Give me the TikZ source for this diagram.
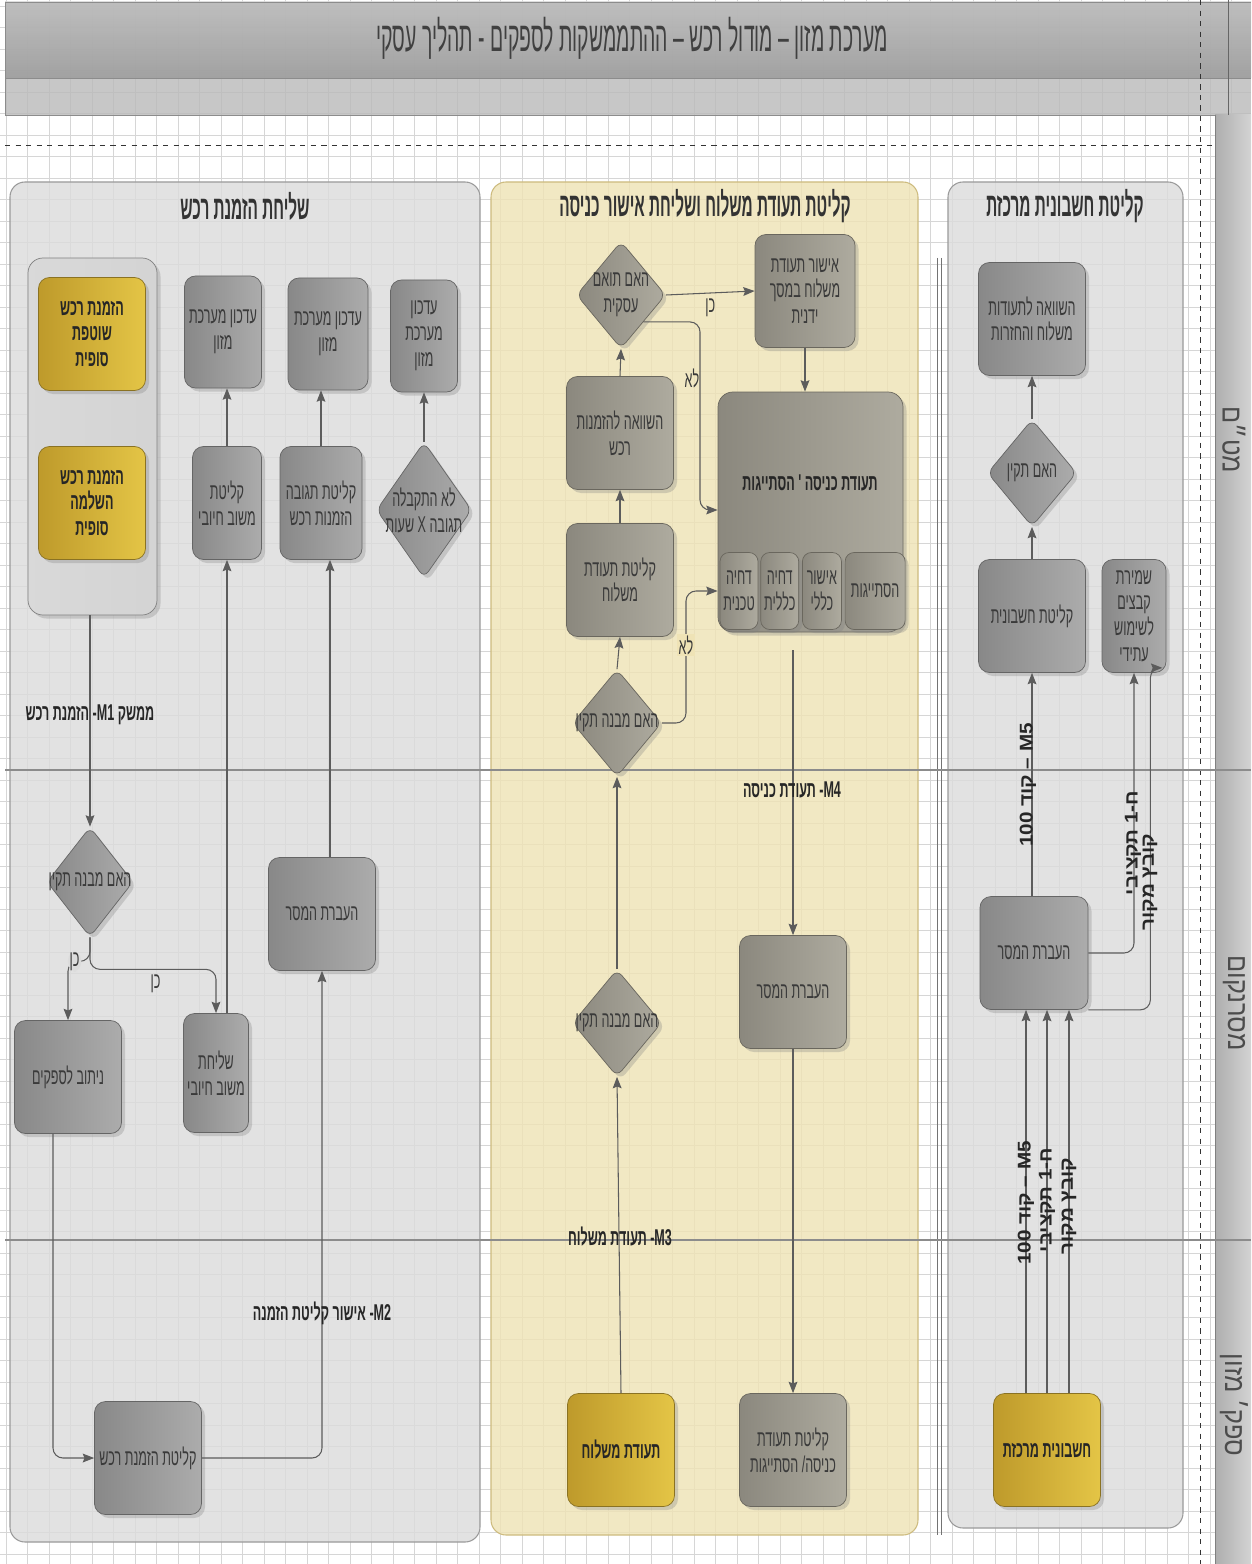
\documentclass[tikz,border=0pt]{standalone}
\usepackage{fontspec}
\usetikzlibrary{shapes, arrows.meta, positioning, shadows}
\newfontfamily\hebfont[Script=Hebrew, FakeStretch=0.55]{Liberation Sans}
\newfontfamily\hebnarrow[Script=Hebrew, FakeStretch=0.46]{Liberation Sans}
\newfontfamily\hebwide[Script=Hebrew, FakeStretch=0.9]{Liberation Sans}
\newfontfamily\hebside[Script=Hebrew, FakeStretch=1.12]{Liberation Sans}
\TeXXeTstate=1
\newcommand{\heb}[1]{\beginR #1\endR}
\newcommand{\lat}[1]{\beginL #1\endL}
\newcommand{\boxfont}{\hebfont\fontsize{13}{14.7}\selectfont}
\newcommand{\boldfont}{\hebfont\bfseries\fontsize{13}{14.7}\selectfont}

\definecolor{gridgray}{HTML}{D6D6D6}
\definecolor{panelgray}{HTML}{DCDCDC}
\definecolor{panelline}{HTML}{9A9A9A}
\definecolor{panelyellow}{HTML}{EFE3B6}
\definecolor{yellowline}{HTML}{CDBB7E}
\definecolor{boxdark}{HTML}{888888}
\definecolor{boxlight}{HTML}{ACACAC}
\definecolor{boxline}{HTML}{656565}
\definecolor{tandark}{HTML}{8B887E}
\definecolor{tanlight}{HTML}{AEAB9F}
\definecolor{tanline}{HTML}{6A675E}
\definecolor{golddark}{HTML}{BE9A2B}
\definecolor{goldlight}{HTML}{E4C546}
\definecolor{goldline}{HTML}{8A7223}
\definecolor{txt}{HTML}{3A3A3A}
\definecolor{flowline}{HTML}{5C5C5C}

\tikzset{
  gridline/.style={draw=gridgray, line width=0.4pt},
  boxsize/.style 2 args={minimum width=#1*0.02cm, minimum height=#2*0.02cm},
  panel/.style={draw=panelline, fill=panelgray, fill opacity=0.82, rounded corners=0.3cm, line width=0.6pt},
  paneltitle/.style={font=\hebnarrow\bfseries\fontsize{19}{22}\selectfont, text=black!80},
  procbox/.style={draw=boxline, rounded corners=0.22cm, left color=boxdark, right color=boxlight,
    text=txt, align=center, inner sep=1pt, font=\boxfont, boxsize={107}{113},
    drop shadow={shadow xshift=0.07cm, shadow yshift=-0.07cm, opacity=0.3}},
  tanbox/.style={procbox, draw=tanline, left color=tandark, right color=tanlight},
  goldbox/.style={procbox, draw=goldline, left color=golddark, right color=goldlight, text=black!85, font=\boldfont},
  decision/.style={diamond, draw=boxline, rounded corners=0.15cm, left color=boxdark, right color=boxlight,
    inner sep=0pt, boxsize={89}{107},
    drop shadow={shadow xshift=0.07cm, shadow yshift=-0.07cm, opacity=0.3}},
  tandecision/.style={decision, draw=tanline, left color=tandark, right color=tanlight},
  dtext/.style={text=txt, align=center, font=\boxfont},
  flow/.style={draw=flowline, line width=0.6pt, -{Stealth[length=6.5pt, width=5pt, inset=1pt]}},
  msglbl/.style={font=\hebfont\bfseries\fontsize{13}{15}\selectfont, text=black!85},
  sidelbl/.style={font=\hebside\bfseries\fontsize{10.5}{12}\selectfont, text=black!85, rotate=90, inner sep=0pt},
  yesno/.style={font=\boxfont, text=txt, inner sep=1pt},
  lanelbl/.style={font=\hebwide\fontsize{16}{18}\selectfont, text=black!70, rotate=-90, inner sep=0pt}
}

\begin{document}
\begin{tikzpicture}[x=0.02cm, y=-0.02cm]
  % Draw the page and the grid
  \fill[white] (0,0) rectangle (1251,1564);
  \useasboundingbox (0,0) rectangle (1251,1564);
  \foreach \gx in {6,27.5,...,1251} \draw[gridline] (\gx,0) -- (\gx,1564);
  \foreach \gy in {6,27.5,...,1564} \draw[gridline] (0,\gy) -- (1251,\gy);

  % Draw the title bands
  \fill[top color=black!15, bottom color=black!28, fill opacity=0.85] (5,2) rectangle (1251,78);
  \fill[black!27, fill opacity=0.8] (5,78) rectangle (1251,115);
  \draw[black!45] (5,2) -- (1251,2) (5,78) -- (1251,78) (5,115) -- (1251,115) (5,2) -- (5,115);
  \node (title) [font=\hebnarrow\fontsize{24}{27}\selectfont, text=black!75] at (632,38)
    {\heb{מערכת מזון – מודול רכש – ההתממשקות לספקים - תהליך עסקי}};

  % Draw the lane strip
  \fill[left color=black!32, right color=black!17] (1215,115) rectangle (1251,1564);
  \draw[black!50] (1215,115) -- (1215,1564);
  \draw[dashed, black!80] (5,145) -- (1215,145);
  \draw[dashed, black!80] (1200,0) -- (1200,1564);
  \draw[black!60] (1228,0) -- (1228,115);

  % Draw the panels
  \draw[panel] (10,182) rectangle (480,1542);
  \draw[panel, draw=yellowline, fill=panelyellow] (491,182) rectangle (918,1535);
  \draw[panel] (948,182) rectangle (1183,1528);
  \draw[black!55] (937,258) -- (937,1535) (941,258) -- (941,1535);
  \node (lefttitle)  [paneltitle] at (245,206)  {\heb{שליחת הזמנת רכש}};
  \node (midtitle)   [paneltitle] at (705,206)  {\heb{קליטת תעודת משלוח ושליחת אישור כניסה}};
  \node (righttitle) [paneltitle] at (1065,206) {\heb{קליטת חשבונית מרכזת}};

  % Draw the lane separators
  \draw[black!45, line width=0.6pt] (5,770) -- (1251,770) (5,1240) -- (1251,1240);
  \node (laneone)   [lanelbl] at (1234,440)  {\heb{מט״ם}};
  \node (lanetwo)   [lanelbl] at (1234,1003) {\heb{מסרנקום}};
  \node (lanethree) [lanelbl] at (1234,1405) {\heb{ספק׳ מזון}};

  % Draw the blocks of the left panel
  \node (cont)     [procbox, draw=black!50, left color=black!15, right color=black!17, boxsize={129}{357}, rounded corners=0.3cm] at (92.5,436.5) {};
  \node (gone)     [goldbox] at (92,334) {\heb{הזמנת רכש}\\\heb{שוטפת}\\\heb{סופית}};
  \node (gtwo)     [goldbox] at (92,503) {\heb{הזמנת רכש}\\\heb{השלמה}\\\heb{סופית}};
  \node (updone)   [procbox, boxsize={77}{112}] at (223,332) {\heb{עדכון מערכת}\\\heb{מזון}};
  \node (updtwo)   [procbox, boxsize={80}{112}] at (328,334) {\heb{עדכון מערכת}\\\heb{מזון}};
  \node (updthree) [procbox, boxsize={67}{112}] at (424,336) {\heb{עדכון}\\\heb{מערכת}\\\heb{מזון}};
  \node (recvpos)  [procbox, boxsize={69}{113}] at (227,503) {\heb{קליטת}\\\heb{משוב חיובי}};
  \node (recvresp) [procbox, boxsize={82}{113}] at (321,503) {\heb{קליטת תגובה}\\\heb{הזמנות רכש}};
  \node (noresp)   [decision, boxsize={95}{136}] at (424,510) {};
  \node (noresptxt) [dtext] at (noresp) {\heb{לא התקבלה}\\\heb{תגובה \lat{X} שעות}};
  \node (chkone)   [decision, boxsize={86}{110}] at (90,882) {};
  \node (chkonetxt) [dtext] at (chkone) {\heb{האם מבנה תקין}};
  \node (route)    [procbox] at (68,1077) {\heb{ניתוב לספקים}};
  \node (sendpos)  [procbox, boxsize={65}{119}] at (216,1073) {\heb{שליחת}\\\heb{משוב חיובי}};
  \node (msgone)   [procbox] at (322,914) {\heb{העברת המסר}};
  \node (recvord)  [procbox] at (148,1458) {\heb{קליטת הזמנת רכש}};

  % Draw the connecting lines of the left panel
  \draw[flow] (recvpos.north) -- (recvpos.north |- updone.south);
  \draw[flow] (recvresp.north) -- (recvresp.north |- updtwo.south);
  \draw[flow] (noresp.north) -- (updthree.south);
  \draw[flow] (cont.south -| chkone) -- (chkone.north);
  \draw[flow, rounded corners=0.2cm] (chkone.south) -- ++(0,24) -| node[yesno, pos=0.35, fill=panelgray] {\heb{כן}} (route.north);
  \draw[flow, rounded corners=0.2cm] (chkone.south) -- ++(0,32) -| node[yesno, pos=0.26, below=2pt] {\heb{כן}} (sendpos.north);
  \draw[flow] (sendpos.north -| recvpos) -- (recvpos.south);
  \draw[flow] ([xshift=0.16cm]msgone.north) -- ([xshift=0.16cm]msgone.north |- recvresp.south);
  \draw[flow, rounded corners=0.2cm] ([xshift=-0.3cm]route.south) |- (recvord.west);
  \draw[flow, rounded corners=0.2cm] (recvord.east) -| (msgone.south);
  \node (mone) [msglbl] at (90,715)  {\heb{ממשק \lat{M1}- הזמנת רכש}};
  \node (mtwo) [msglbl] at (322,1313) {\heb{\lat{M2}- אישור קליטת הזמנה}};

  % Draw the blocks of the middle panel
  \node (chkfit)   [tandecision] at (621,295) {};
  \node (chkfittxt) [dtext] at (chkfit) {\heb{האם תואם}\\\heb{עסקית}};
  \node (approve)  [tanbox, boxsize={100}{113}] at (805,291) {\heb{אישור תעודת}\\\heb{משלוח במסך}\\\heb{ידנית}};
  \node (compare)  [tanbox] at (620,433) {\heb{השוואה להזמנות}\\\heb{רכש}};
  \node (recvdn)   [tanbox] at (620,580) {\heb{קליטת תעודת}\\\heb{משלוח}};
  \node (entry)    [tanbox, boxsize={185}{240}, rounded corners=0.3cm] at (810.5,512) {};
  \node (entrytxt) [font=\boldfont, text=black!85] at (810,483) {\heb{תעודת כניסה ' הסתייגות}};
  \node (rejtech)  [tanbox, boxsize={38}{77}, rounded corners=0.18cm] at (739,591) {\heb{דחיה}\\\heb{טכנית}};
  \node (rejgen)   [tanbox, boxsize={38}{77}, rounded corners=0.18cm, right=0.04cm of rejtech] {\heb{דחיה}\\\heb{כללית}};
  \node (okgen)    [tanbox, boxsize={39}{77}, rounded corners=0.18cm, right=0.06cm of rejgen] {\heb{אישור}\\\heb{כללי}};
  \node (reserv)   [tanbox, boxsize={60}{77}, rounded corners=0.18cm, right=0.06cm of okgen] {\heb{הסתייגות}};
  \node (chktwo)   [tandecision] at (617,723) {};
  \node (chktwotxt) [dtext] at (chktwo) {\heb{האם מבנה תקין}};
  \node (chkthree) [tandecision] at (617,1023) {};
  \node (chkthreetxt) [dtext] at (chkthree) {\heb{האם מבנה תקין}};
  \node (msgtwo)   [tanbox] at (793,992) {\heb{העברת המסר}};
  \node (dngold)   [goldbox] at (621,1450) {\heb{תעודת משלוח}};
  \node (recvent)  [tanbox] at (793,1450) {\heb{קליטת תעודת}\\\heb{כניסה/ הסתייגות}};

  % Draw the connecting lines of the middle panel
  \coordinate (nofit) at (700,510);
  \coordinate (nostr) at (686,591);
  \draw[flow] (chkfit.east) -- node[yesno, below=2pt] {\heb{כן}} (approve.west);
  \draw[flow] (approve.south) -- (approve.south |- entry.north);
  \draw[flow, rounded corners=0.2cm] (chkfit.south east) -| (nofit) -- (nofit -| entry.west);
  \node (nofitlbl) [yesno] at (692,378) {\heb{לא}};
  \draw[flow] (compare.north) -- (chkfit.south);
  \draw[flow] (recvdn.north) -- (compare.south);
  \draw[flow] (chktwo.north) -- (recvdn.south);
  \draw[flow, rounded corners=0.2cm] (chktwo.east) -| (nostr) -- (nostr -| entry.west);
  \node (nostrlbl) [yesno, fill=panelyellow] at (686,645) {\heb{לא}};
  \draw[flow] (chkthree.north) -- (chktwo.south);
  \draw[flow] (dngold.north) -- (chkthree.south);
  \draw[flow] ([yshift=-0.36cm]entry.south -| msgtwo) -- (msgtwo.north);
  \draw[flow] (msgtwo.south) -- (recvent.north);
  \node (mthree) [msglbl] at (620,1237) {\heb{\lat{M3}- תעודת משלוח}};
  \node (mfour)  [msglbl] at (792,790)  {\heb{\lat{M4}- תעודת כניסה}};

  % Draw the blocks of the right panel
  \node (cmp)    [procbox] at (1032,319) {\heb{השוואה לתעודות}\\\heb{משלוח והחזרות}};
  \node (chkok)  [decision] at (1032,473) {};
  \node (chkoktxt) [dtext] at (chkok) {\heb{האם תקין}};
  \node (inv)    [procbox] at (1032,616) {\heb{קליטת חשבונית}};
  \node (save)   [procbox, boxsize={64}{113}] at (1134,616) {\heb{שמירת}\\\heb{קבצים}\\\heb{לשימוש}\\\heb{עתידי}};
  \node (msgthree) [procbox, boxsize={108}{113}] at (1034,953) {\heb{העברת המסר}};
  \node (ginv)   [goldbox] at (1047,1450) {\heb{חשבונית מרכזת}};

  % Draw the connecting lines of the right panel
  \draw[flow] (msgthree.north -| inv) -- (inv.south);
  \draw[flow] (inv.north) -- (chkok.south);
  \draw[flow] (chkok.north) -- (cmp.south);
  \node (mfivetop) [sidelbl] at (1028,785) {\heb{\lat{M5} – קוד \lat{100}}};
  \draw[flow, rounded corners=0.2cm] (msgthree.east) -| (save.south);
  \node (budgettop) [sidelbl] at (1133,843) {\heb{ח-1 תקציבי}};
  \draw[flow, rounded corners=0.2cm] (msgthree.south east) -| ([xshift=-0.32cm, yshift=0.1cm]save.south east) -- ([xshift=-0.08cm, yshift=0.1cm]save.south east);
  \node (filetop) [sidelbl] at (1150,882) {\heb{קובץ מקור}};
  \draw[flow] ([xshift=-0.42cm]ginv.north) -- ([xshift=-0.42cm]ginv.north |- msgthree.south);
  \draw[flow] (ginv.north) -- (ginv.north |- msgthree.south);
  \draw[flow] ([xshift=0.44cm]ginv.north) -- ([xshift=0.44cm]ginv.north |- msgthree.south);
  \node (mfivebot)   [sidelbl] at (1026,1203) {\heb{\lat{M5} – קוד \lat{100}}};
  \node (budgetbot)  [sidelbl] at (1047,1200) {\heb{ח-1 תקציבי}};
  \node (filebot)    [sidelbl] at (1069,1206) {\heb{קובץ מקור}};
\end{tikzpicture}
\end{document}
